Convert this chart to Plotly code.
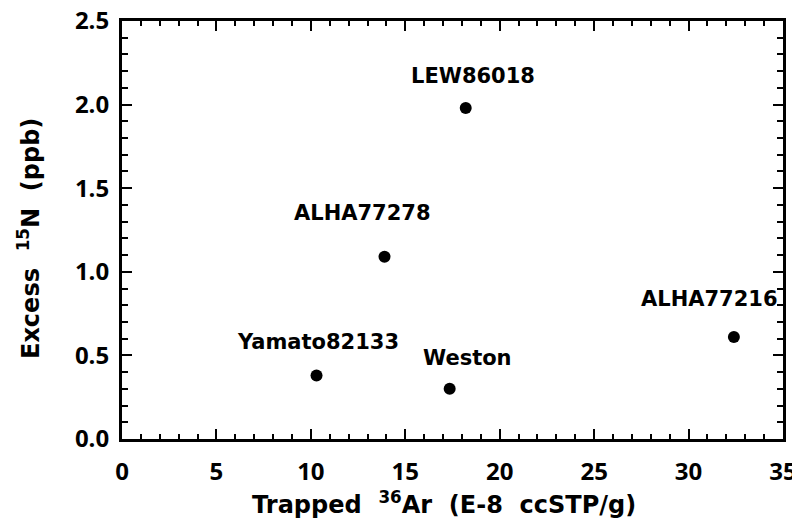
import plotly.graph_objects as go

names = ["LEW86018", "ALHA77278", "Yamato82133", "Weston", "ALHA77216"]
ar36 = [18.2, 13.9, 10.3, 17.35, 32.4]
n15 = [1.98, 1.09, 0.38, 0.30, 0.61]
label_dx = [7, -22, 1, 18, -24]
label_dy = [32, 44, 33, 31, 38]

x_ticks = [0, 5, 10, 15, 20, 25, 30, 35]
y_ticks = [0.0, 0.5, 1.0, 1.5, 2.0, 2.5]

FONT = "DejaVu Sans"
TICKFONT = "Open Sans"

fig = go.Figure()
fig.add_trace(go.Scatter(
    x=ar36, y=n15, mode="markers",
    marker=dict(color="black", size=12),
    hoverinfo="skip", showlegend=False, cliponaxis=False,
))

for nm, xv, yv, dx, dy in zip(names, ar36, n15, label_dx, label_dy):
    fig.add_annotation(
        x=xv, y=yv, xref="x", yref="y", text="<b>" + nm + "</b>",
        showarrow=False, xshift=dx, yshift=dy,
        font=dict(family=FONT, size=21, color="black"),
    )

axis_common = dict(
    showgrid=False, zeroline=False, automargin=False,
    showline=True, linecolor="black", linewidth=3,
    mirror="allticks", ticks="inside", ticklen=10, tickwidth=2,
    tickcolor="black", ticklabeloverflow="allow",
    tickfont=dict(family=TICKFONT, size=24, color="black", weight="bold"),
)

fig.update_xaxes(
    range=[0, 35], tickvals=x_ticks, ticktext=[str(v) for v in x_ticks],
    ticklabelstandoff=9,
    minor=dict(dtick=1, ticks="inside", ticklen=5, tickwidth=1.5, tickcolor="black"),
    title=dict(text="<b>Trapped&nbsp; <sup>36</sup>Ar&nbsp; (E-8&nbsp; ccSTP/g)&nbsp;&nbsp;</b>",
               font=dict(family=FONT, size=24, color="black"), standoff=9),
    **axis_common,
)
fig.update_yaxes(
    range=[0, 2.5], tickvals=y_ticks, ticktext=["%.1f" % v for v in y_ticks],
    ticklabelstandoff=5,
    minor=dict(dtick=0.1, ticks="inside", ticklen=6, tickwidth=1.5, tickcolor="black"),
    title=dict(text="<b>Excess&nbsp; <sup>15</sup>N&nbsp; (ppb)&nbsp;&nbsp;</b>",
               font=dict(family=FONT, size=24, color="black"), standoff=29),
    **axis_common,
)

fig.update_layout(
    width=792, height=515,
    margin=dict(l=114, r=17, t=13, b=84),
    paper_bgcolor="white", plot_bgcolor="white",
    font=dict(family=FONT, color="black"),
)

fig.write_html("out.html")
